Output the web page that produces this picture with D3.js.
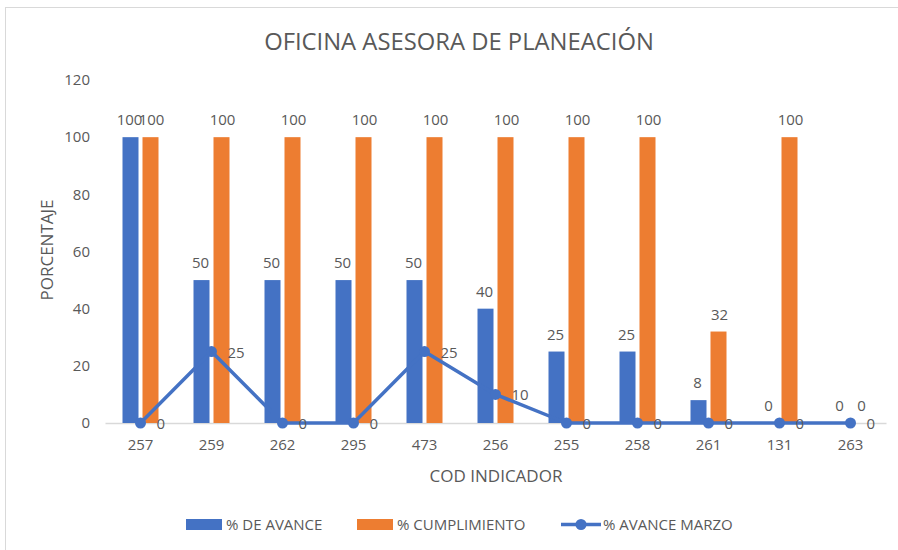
<!DOCTYPE html>
<html><head><meta charset="utf-8">
<script src="https://cdn.jsdelivr.net/npm/d3@7"></script>
<style>body{margin:0;background:#fff}svg{display:block}text{font-family:"Open Sans",sans-serif;fill:#595959}</style>
</head><body>
<svg id="c" width="898" height="550"></svg>
<script>
const categories = ["257","259","262","295","473","256","255","258","261","131","263"];
const avance = [100,50,50,50,50,40,25,25,8,0,0];
const cumplimiento = [100,100,100,100,100,100,100,100,32,100,0];
const avanceMarzo = [0,25,0,0,25,10,0,0,0,0,0];
const yTicks = [0,20,40,60,80,100,120];
const seriesNames = ["% DE AVANCE","% CUMPLIMIENTO","% AVANCE MARZO"];
const blue = "#4472C4", orange = "#ED7D31";

const svg = d3.select("#c");
svg.append("rect").attr("x",5.5).attr("y",7.5).attr("width",900).attr("height",545)
  .attr("fill","#fff").attr("stroke","#d9d9d9");

const x = d3.scaleBand().domain(categories).range([105,886]);
const y = d3.scaleLinear().domain([0,120]).range([423,80]);

svg.append("text").attr("x",459).attr("y",50).attr("text-anchor","middle")
  .style("font-size","23.8px").text("OFICINA ASESORA DE PLANEACIÓN");

const ya = svg.append("g").attr("transform","translate(90,0)")
  .call(d3.axisLeft(y).tickValues(yTicks).tickSize(0).tickPadding(0));
ya.select(".domain").remove();
ya.selectAll("text").style("font-size","15px").style("fill","#595959").style("font-family",'"Open Sans",sans-serif');

const xa = svg.append("g").attr("transform","translate(0,423)")
  .call(d3.axisBottom(x).tickSize(0).tickPadding(16));
xa.select(".domain").attr("stroke","#d9d9d9").attr("stroke-width",1.5);
xa.selectAll("text").style("font-size","15px").style("fill","#595959").style("font-family",'"Open Sans",sans-serif');

svg.append("text").attr("transform","translate(53,250) rotate(-90)").attr("text-anchor","middle")
  .style("font-size","17px").text("PORCENTAJE");
svg.append("text").attr("x",496).attr("y",482).attr("text-anchor","middle")
  .style("font-size","17px").text("COD INDICADOR");

const cx = c => x(c) + x.bandwidth()/2;
const bw = 16;

const g = svg.append("g");
g.selectAll(".b").data(categories).join("rect")
  .attr("x",(c)=>cx(c)-18).attr("width",bw)
  .attr("y",(c,i)=>y(avance[i])).attr("height",(c,i)=>y(0)-y(avance[i])).attr("fill",blue);
g.selectAll(".o").data(categories).join("rect")
  .attr("x",(c)=>cx(c)+2).attr("width",bw)
  .attr("y",(c,i)=>y(cumplimiento[i])).attr("height",(c,i)=>y(0)-y(cumplimiento[i])).attr("fill",orange);

categories.forEach((c,i)=>{
  g.append("text").attr("x",cx(c)-11).attr("y",y(avance[i])-12).attr("text-anchor","middle")
    .style("font-size","15px").text(avance[i]);
  g.append("text").attr("x",cx(c)+11).attr("y",y(cumplimiento[i])-12).attr("text-anchor","middle")
    .style("font-size","15px").text(cumplimiento[i]);
});

const line = d3.line().x((d,i)=>cx(categories[i])).y(d=>y(d));
g.append("path").datum(avanceMarzo).attr("d",line).attr("fill","none").attr("stroke",blue).attr("stroke-width",3.5).attr("stroke-linejoin","round");
g.selectAll(".m").data(avanceMarzo).join("circle")
  .attr("cx",(d,i)=>cx(categories[i])).attr("cy",d=>y(d)).attr("r",5.5).attr("fill",blue);
avanceMarzo.forEach((d,i)=>{
  g.append("text").attr("x",cx(categories[i])+16).attr("y",y(d)+6).attr("text-anchor","start")
    .style("font-size","15px").text(d);
});

const lg = svg.append("g");
lg.append("rect").attr("x",186).attr("y",519).attr("width",36).attr("height",11).attr("fill",blue);
lg.append("text").attr("x",226).attr("y",530).style("font-size","15px").text(seriesNames[0]);
lg.append("rect").attr("x",357).attr("y",519).attr("width",36).attr("height",11).attr("fill",orange);
lg.append("text").attr("x",397).attr("y",530).style("font-size","15px").text(seriesNames[1]);
lg.append("line").attr("x1",561).attr("x2",601).attr("y1",524.5).attr("y2",524.5).attr("stroke",blue).attr("stroke-width",3.5);
lg.append("circle").attr("cx",581).attr("cy",524.5).attr("r",5.5).attr("fill",blue);
lg.append("text").attr("x",603).attr("y",530).style("font-size","15px").text(seriesNames[2]);
</script>
</body></html>
